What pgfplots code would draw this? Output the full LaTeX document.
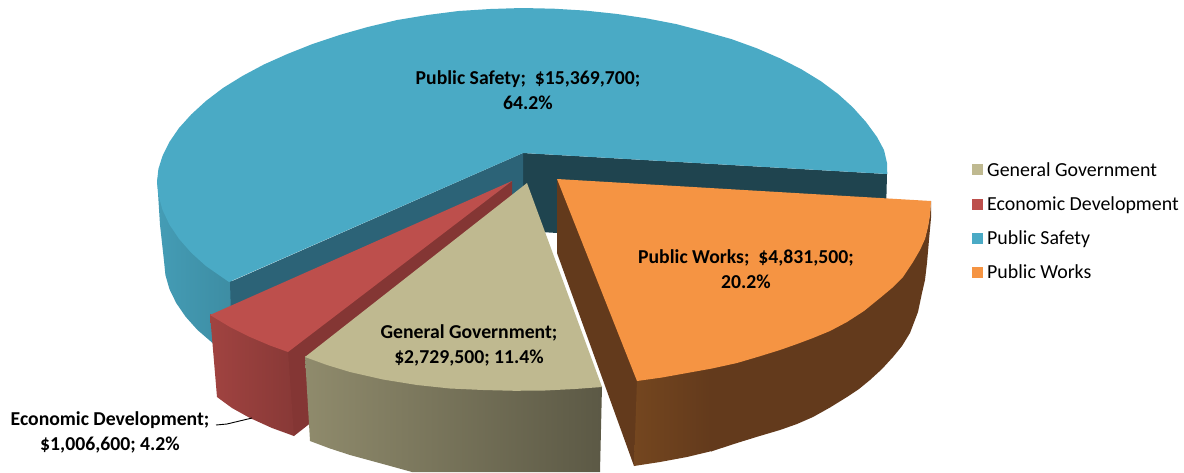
\documentclass[border=0pt]{standalone}
\usepackage{fontspec}
\setmainfont{Carlito}
\usepackage{pgfplots}
\pgfplotsset{compat=1.18}
\definecolor{cTan}{HTML}{BFB990}
\definecolor{cRed}{HTML}{BD4F4C}
\definecolor{cBlue}{HTML}{4AAAC5}
\definecolor{cOrange}{HTML}{F59443}
\definecolor{cDarkBlue}{HTML}{1F444F}
\definecolor{cMidBlue}{HTML}{2C6377}
\definecolor{cRedWall}{HTML}{843634}
\definecolor{cBrown}{HTML}{633A1C}
\definecolor{cBrownL}{HTML}{74461F}
\begin{document}
\begin{tikzpicture}
\path[use as bounding box] (0,0) rectangle (1184pt,472pt);
\begin{axis}[
  at={(0,0)},anchor=south west,
  scale only axis,width=1184pt,height=472pt,
  xmin=0,xmax=1184,ymin=0,ymax=472,y dir=reverse,
  hide axis,
  legend style={at={(axis cs:972,160)},anchor=north west,draw=none,fill=none,
    font=\fontsize{19.9}{23}\selectfont,inner sep=0pt,row sep=15pt},
  legend cell align=left,
  every axis plot/.append style={no markers,draw=none,forget plot},
]
\addlegendimage{legend image code/.code={\fill[cTan] (0pt,-5.5pt) rectangle (11pt,5.5pt); \path (13pt,0pt);}}
\addlegendentry{General Government}
\addlegendimage{legend image code/.code={\fill[cRed] (0pt,-5.5pt) rectangle (11pt,5.5pt); \path (13pt,0pt);}}
\addlegendentry{Economic Development}
\addlegendimage{legend image code/.code={\fill[cBlue] (0pt,-5.5pt) rectangle (11pt,5.5pt); \path (13pt,0pt);}}
\addlegendentry{Public Safety}
\addlegendimage{legend image code/.code={\fill[cOrange] (0pt,-5.5pt) rectangle (11pt,5.5pt); \path (13pt,0pt);}}
\addlegendentry{Public Works}

% Public Safety: outer side
\addplot[left color=cBlue!92!black,right color=cBlue!82!black] coordinates {
 (157,177)(162,205)(179,236)(206,262)(229,278)(238,285)(238,357)(228.7,354.5)(212,342.5)(197.5,330)(185.6,316.7)(176.2,303)(169.4,289)(165.4,275)(164,261)(160,225)} --cycle;
% Public Safety: cut walls
\addplot[fill=cDarkBlue] coordinates {(523,153)(887,174)(885,252)(523,231)} --cycle;
\addplot[fill=cMidBlue] coordinates {(523,153)(230,282)(232,350)(523,231)} --cycle;
% Public Safety: top
\addplot[fill=cBlue] coordinates {
 (523,153)(887.3,174)(887,163)(884,150)(877,137)(866,122)(852.8,107.3)(838.1,94)(821,81.3)(801.6,69.4)(780.1,58.4)(756.6,48.2)(731.4,39.1)(704.5,31.5)(676.3,24.1)(646.8,18.4)(616.5,13.9)(585.4,10.6)(553.8,8.7)(522,8)
 (490.2,9)(458.6,11)(427.5,15)(397.2,20)(367.7,27)(339.5,35)(312.6,44)(287.4,54)(263.9,64.5)(242.4,76)(223,88)(205.9,101)(191.2,114.5)(179,128)(169.4,142)(162.5,156)(158.4,169)(157,182)
 (158.4,195)(162.5,209.9)(169.4,224.5)(179,238.8)(191.2,252.7)(205.9,266)(229,282)} --cycle;

% Economic Development
\addplot[fill=cRedWall] coordinates {(512,181)(284,352)(290,433)(294,436)(308,425)(512,260)} --cycle;
\addplot[left color=cRed!85!black,right color=cRed!72!black] coordinates {
 (210,314)(230,326)(250,336)(270,344)(288,351)(294,436)(272,428)(250,418)(232,408)(217,397)} --cycle;
\addplot[fill=cRed] coordinates {(512,181)(210,315)(230,327)(250,337)(270,345.5)(288,352)} --cycle;

% General Government
\addplot[left color=cTan!75!black,right color=cTan!48!black] coordinates {
 (305,356)(327,364)(350,371)(383,378.5)(417,384)(450,387.5)(483,389)(515,389.8)(545,389.5)(575,388)(602,386)(600,472)(412,472)(383,464)(350,455)(330,448.5)(310,441)} --cycle;
\addplot[fill=cTan] coordinates {
 (527,183)(305,357)(327,365)(350,372)(383,379.5)(417,385)(450,388.5)(483,390)(515,390.8)(545,390.5)(575,389)(602,387)} --cycle;

% Public Works
\addplot[fill=cBrown] coordinates {(557,179)(642,381)(640,462)(634,466)(557,253)} --cycle;
\addplot[fill=cBrown] coordinates {
 (931,201)(930,214)(928,226)(925,238)(920,249)(913,261)(903,276)(892,287)(880,297)(864,310)(847,321)(830,330)(813,337)(797,343)(780,349)(759,355.5)(737,362)(711,367)
 (711,451.5)(737,443)(758,436.5)(780,430)(797,424)(813,417)(830,407.5)(847,397)(859,389)(870,380)(882,369)(893,357)(902,346)(910,333)(918,312)(922,293)(925,280)(927,263)(929,240)(931,218)} --cycle;
\addplot[left color=cBrownL,right color=cBrown] coordinates {
 (637,380)(662,376.5)(687,372)(712,367.5)(712,451)(687,457)(660,462)(634,466)} --cycle;
\addplot[fill=cOrange] coordinates {
 (557,179)(931,201)(930,215)(928,227)(925,239)(920,250)(913,262)(903,277)(892,288)(880,298)(864,311)(847,322)(830,331)(813,338)(797,344)(780,350)(759,356.5)(737,363)(712,368.5)(687,373)(662,377.5)(637,381)} --cycle;

% Leader line
\addplot[draw=black,line width=0.9pt] coordinates {(216,425)(227,424)(252,418)};

\tikzset{lab/.style={font=\bfseries\fontsize{19.7}{25}\selectfont,align=center,text=black,inner sep=0pt}}
\node[lab] at (axis cs:528,90) {Public Safety;~ \$15,369,700;\\64.2\%};
\node[lab] at (axis cs:746,269) {Public Works;~ \$4,831,500;\\20.2\%};
\node[lab] at (axis cs:469,345.5) {General Government;\\\$2,729,500; 11.4\%};
\node[lab] at (axis cs:110,432) {Economic Development;\\\$1,006,600; 4.2\%};
\end{axis}
\end{tikzpicture}
\end{document}
